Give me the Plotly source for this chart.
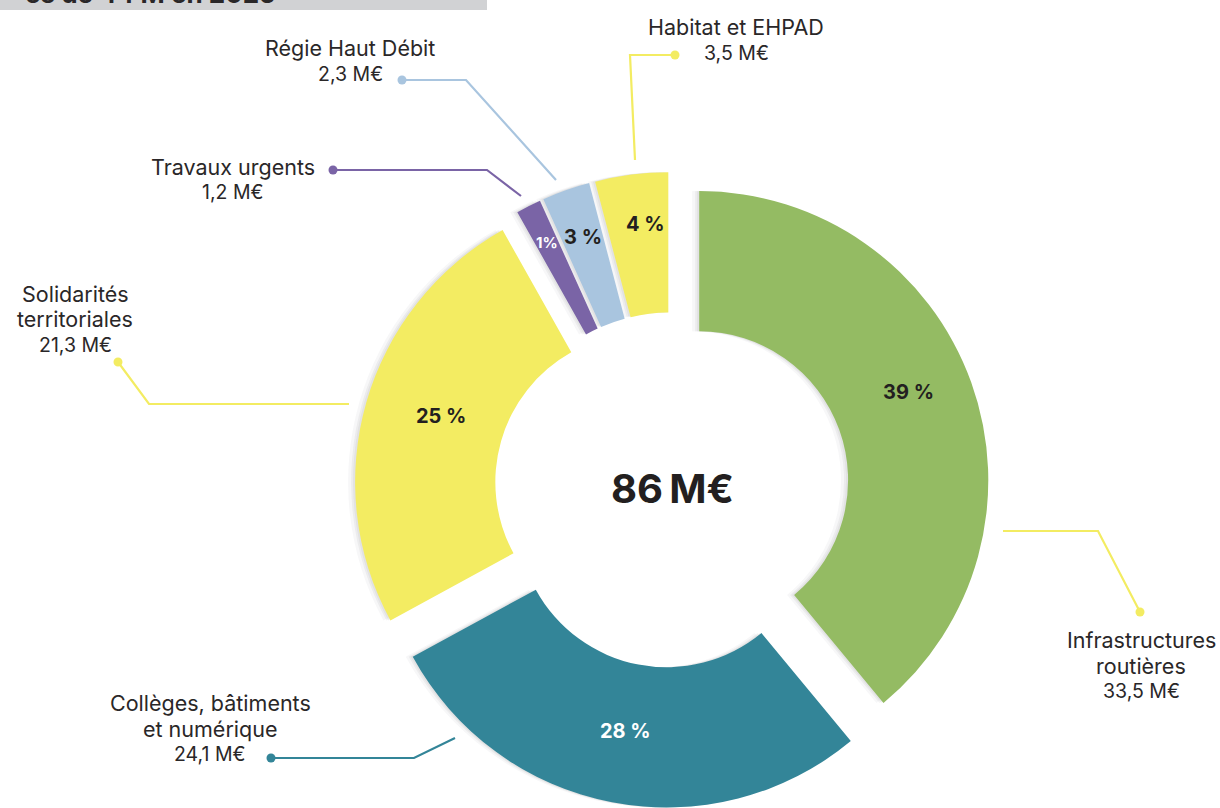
import plotly.graph_objects as go

# ---- data ----
categories = ["Infrastructures<br>routières", "Collèges, bâtiments<br>et numérique",
              "Solidarités<br>territoriales", "Travaux urgents", "Régie Haut Débit",
              "Habitat et EHPAD"]
values = [33.5, 24.1, 21.3, 1.2, 2.3, 3.5]
value_labels = ["33,5 M€", "24,1 M€", "21,3 M€", "1,2 M€", "2,3 M€", "3,5 M€"]
pct_labels = ["39 %", "28 %", "25 %", "1%", "3 %", "4 %"]
total_label = "86\u202fM€"
banner_text = "es de 44 M en 2025"

colors = ["#94BB63", "#338598", "#F3EC62", "#7A64A6", "#A9C5DF", "#F3EC62"]
line_colors = ["#F3EC62", "#338598", "#F3EC62", "#7A64A6", "#A9C5DF", "#F3EC62"]
pct_colors = ["#231F20", "#FFFFFF", "#231F20", "#FFFFFF", "#231F20", "#231F20"]
pct_sizes = [20, 20, 20, 15, 20, 20]

W, H = 1220, 808
FONT = "Inter"
TEXT_COLOR = "#2A2728"

def px(x):
    return x / W

def py(y):
    return 1 - y / H

cx, cy = 672, 490
half = H - cy          # limited by the bottom edge
hole = 0.515
pull = 0.1

dom_x = [px(cx - half), px(cx + half)]
dom_y = [0, py(cy - half)]

fig = go.Figure()

# soft shadow layers (shifted left)
for dx, alpha in [(7, 0.04), (4, 0.06), (2, 0.06)]:
    fig.add_trace(go.Pie(
        values=values, sort=False, direction="clockwise", hole=hole,
        pull=[pull] * len(values),
        marker=dict(colors=[f"rgba(60,60,70,{alpha})"] * len(values), line=dict(width=0)),
        textinfo="none", hoverinfo="skip", showlegend=False,
        domain=dict(x=[px(cx - half - dx), px(cx + half - dx)], y=dom_y),
    ))

# main donut
fig.add_trace(go.Pie(
    values=values, labels=[c.replace("<br>", " ") for c in categories],
    sort=False, direction="clockwise", hole=hole,
    pull=[pull] * len(values),
    marker=dict(colors=colors, line=dict(width=0)),
    textinfo="none", hoverinfo="label+value", showlegend=False,
    domain=dict(x=dom_x, y=dom_y),
))

# label layout: (text center x, first line y, leader path, dot)
label_layout = [
    (1141, 640, [(1003, 531), (1098, 531), (1140, 612)], (1140, 612)),
    (210, 703, [(271, 758), (414, 758), (455, 738)], (271, 758)),
    (75, 294, [(118, 362), (149, 404), (349, 404)], (118, 362)),
    (233, 167, [(333, 170), (487, 170), (521, 196)], (333, 170)),
    (350, 48, [(402, 80), (466, 80), (556, 180)], (402, 80)),
    (736, 27, [(675, 55), (630, 55), (635, 160)], (675, 55)),
]
line_step = 25.5
# percentage label positions (inside the slices)
pct_pos = [(908, 392), (626, 731), (441, 416), (547, 243), (583, 237), (645, 224)]

shapes = []
annotations = []
for i, (tx, ty, path, dot) in enumerate(label_layout):
    d = "M " + " L ".join(f"{px(x)},{py(y)}" for x, y in path)
    shapes.append(dict(type="path", xref="paper", yref="paper", path=d,
                       line=dict(color=line_colors[i], width=2.2)))
    r = 4.5
    shapes.append(dict(type="circle", xref="paper", yref="paper",
                       x0=px(dot[0] - r), x1=px(dot[0] + r),
                       y0=py(dot[1] + r), y1=py(dot[1] - r),
                       fillcolor=line_colors[i], line=dict(width=0)))
    name_lines = categories[i].split("<br>")
    lines = [(ln, 21.5) for ln in name_lines] + [(value_labels[i], 19.5)]
    for k, (ln, fs) in enumerate(lines):
        annotations.append(dict(
            x=px(tx), y=py(ty + k * line_step), xref="paper", yref="paper",
            text=ln, showarrow=False, xanchor="center", yanchor="middle",
            font=dict(family=FONT, size=fs, color=TEXT_COLOR)))

for i, (x, y) in enumerate(pct_pos):
    annotations.append(dict(x=px(x), y=py(y), xref="paper", yref="paper",
                            text=pct_labels[i], showarrow=False,
                            xanchor="center", yanchor="middle",
                            font=dict(family=FONT, size=pct_sizes[i], weight="bold",
                                      color=pct_colors[i])))

# center total
annotations.append(dict(x=px(672), y=py(488), xref="paper", yref="paper",
                        text=total_label, showarrow=False,
                        xanchor="center", yanchor="middle",
                        font=dict(family=FONT, size=40, weight="bold", color="#231F20")))

# cut banner at top-left
shapes.append(dict(type="rect", xref="paper", yref="paper", layer="below",
                   x0=0, x1=px(487), y0=py(10), y1=1.02,
                   fillcolor="#D1D2D4", line=dict(width=0)))
annotations.append(dict(x=px(278), y=py(11), xref="paper", yref="paper",
                        text=banner_text, showarrow=False,
                        xanchor="right", yanchor="bottom",
                        font=dict(family=FONT, size=26, weight="bold", color=TEXT_COLOR)))

fig.update_layout(
    width=W, height=H, margin=dict(l=0, r=0, t=0, b=0),
    paper_bgcolor="white", plot_bgcolor="white",
    shapes=shapes, annotations=annotations,
)

fig.write_html("out.html", config={"displayModeBar": False},
               post_script="document.body.style.margin='0';document.body.style.overflow='hidden';")
